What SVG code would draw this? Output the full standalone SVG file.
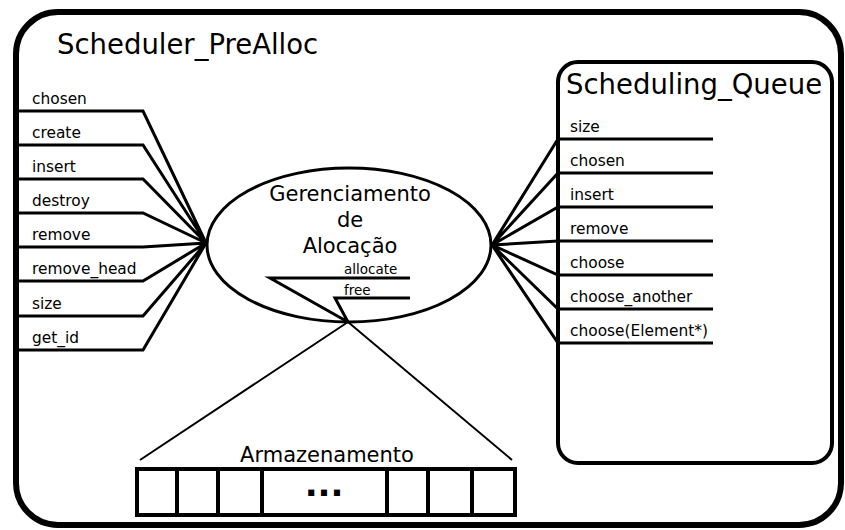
<svg xmlns="http://www.w3.org/2000/svg" width="845" height="530" viewBox="0 0 845 530">
<style>
text{font-family:"DejaVu Sans","Liberation Sans",sans-serif;fill:#000}
.lbl{font-size:15.4px}
.title{font-size:27.5px}
.big{font-size:21px}
.sm{font-size:13.5px}
.ln{fill:none;stroke:#000;stroke-width:3;stroke-linejoin:miter}
.thin{fill:none;stroke:#000;stroke-width:2}
</style>
<rect width="845" height="530" fill="#fff"/>
<g id="scheduler_prealloc">
<rect x="16" y="12" width="825" height="513" rx="42" fill="none" stroke="#000" stroke-width="6"/>
<text class="title" x="57" y="54">Scheduler_PreAlloc</text>
<text class="lbl" x="32" y="104">chosen</text>
<text class="lbl" x="32" y="138">create</text>
<text class="lbl" x="32" y="172">insert</text>
<text class="lbl" x="32" y="206">destroy</text>
<text class="lbl" x="32" y="240">remove</text>
<text class="lbl" x="32" y="274">remove_head</text>
<text class="lbl" x="32" y="309">size</text>
<text class="lbl" x="32" y="343">get_id</text>
</g>
<g id="scheduling_queue">
<rect x="558" y="62" width="274" height="401" rx="20" fill="none" stroke="#000" stroke-width="4"/>
<text class="title" x="566" y="94">Scheduling_Queue</text>
<text class="lbl" x="570" y="132">size</text>
<text class="lbl" x="570" y="166">chosen</text>
<text class="lbl" x="570" y="200">insert</text>
<text class="lbl" x="570" y="234">remove</text>
<text class="lbl" x="570" y="268">choose</text>
<text class="lbl" x="570" y="302">choose_another</text>
<text class="lbl" x="570" y="336">choose(Element*)</text>
</g>
<g id="gerenciamento">
<ellipse cx="349" cy="245" rx="142" ry="77" fill="none" stroke="#000" stroke-width="3"/>
<text class="big" x="350" y="201" text-anchor="middle">Gerenciamento</text>
<text class="big" x="350" y="227" text-anchor="middle">de</text>
<text class="big" x="350" y="253" text-anchor="middle">Alocação</text>
<text class="sm" x="344" y="274">allocate</text>
<text class="sm" x="344" y="295">free</text>
</g>
<g id="armazenamento">
<text class="big" x="327" y="462" text-anchor="middle">Armazenamento</text>
<rect x="137" y="469" width="378" height="46" fill="none" stroke="#000" stroke-width="4"/>
<path d="M177 469V515M218 469V515M262 469V515M387 469V515M428 469V515M472 469V515" stroke="#000" stroke-width="4" fill="none"/>
<text x="324" y="496" text-anchor="middle" style="font-size:34px;font-weight:bold">...</text>
</g>
<g id="connectors">
<path class="ln" d="M16 111H143L206 243M16 145H143L206 243M16 179H143L206 243M16 213H143L206 243M16 247H143L206 243M16 281H143L206 243M16 316H143L206 243M16 350H143L206 243"/>
<path class="ln" d="M713 139H558L492 245M713 173H558L492 245M713 207H558L492 245M713 241H558L492 245M713 275H558L492 245M713 309H558L492 245M713 343H558L492 245"/>
<path class="ln" d="M410 278H270L348 322M410 298H335L348 322"/>
<path class="thin" d="M348 322L140 460M348 322L512 460"/>
</g>
</svg>
